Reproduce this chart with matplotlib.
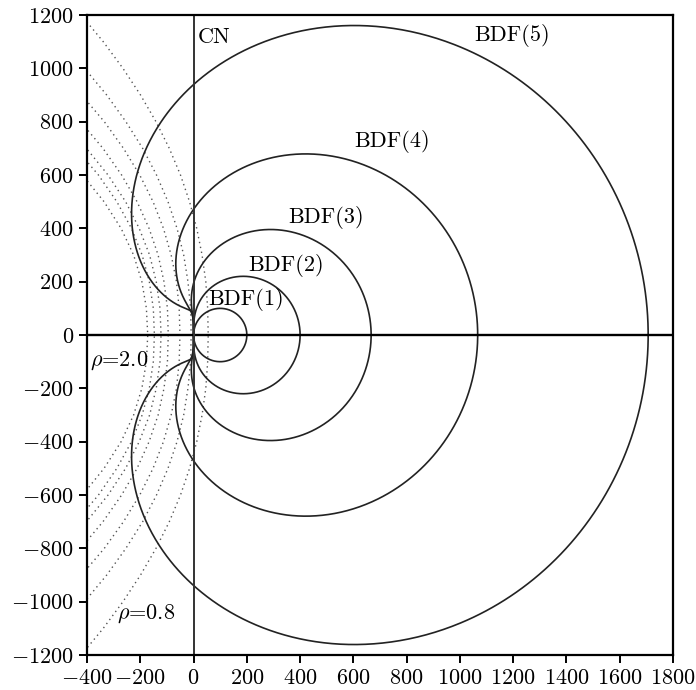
# BDF stability boundaries (scaled by 1/h) with CN axis and rho-curves

import numpy as np
import matplotlib.pyplot as plt

plt.rcParams['font.family'] = 'cmr10'
plt.rcParams['mathtext.fontset'] = 'cm'
plt.rcParams['axes.formatter.use_mathtext'] = True

# BDF(k) coefficients alpha_k ... alpha_0 (beta_k = 1)
bdf_names = ['BDF(1)', 'BDF(2)', 'BDF(3)', 'BDF(4)', 'BDF(5)']
bdf1 = [1, -1]
bdf2 = [3/2, -2, 1/2]
bdf3 = [11/6, -3, 3/2, -1/3]
bdf4 = [25/12, -4, 3, -4/3, 1/4]
bdf5 = [137/60, -5, 5, -10/3, 5/4, -1/5]
inv_h = 100  # 1/h

# label anchors (centre of text)
bdf_label_x = [199, 349, 497, 745, 1195]
bdf_label_y = [135, 262, 439, 725, 1125]

# dotted rho-curves, upper half (mirrored below)
rho_y = [0, 100, 200, 300, 400, 500, 600, 700, 800, 900, 1000, 1100, 1200]
rho_vals = [0.8, 1.0, 1.2, 1.4, 1.6, 1.8, 2.0]
x_rho08 = [55, 53, 46, 32, 12, -15, -49, -91, -141, -199, -265, -339, -422]
x_rho10 = [-9, -11, -21, -37, -62, -96, -139, -191, -254, -326, -409, -502]
x_rho12 = [-51, -54, -64, -84, -113, -152, -202, -263, -335, -420]
x_rho14 = [-95, -98, -111, -133, -167, -212, -270, -340, -424]
x_rho16 = [-122, -126, -140, -165, -204, -255, -321, -402, -497]
x_rho18 = [-147, -151, -166, -193, -233, -288, -357, -442]
x_rho20 = [-172, -177, -194, -225, -272, -336, -417]
rho_curves = [x_rho08, x_rho10, x_rho12, x_rho14, x_rho16, x_rho18, x_rho20]

fig = plt.figure(figsize=(6.96, 6.90), dpi=100)
ax = fig.add_axes([0.125, 0.0507, 0.842, 0.9275])

for xs in rho_curves:
    ys = np.array(rho_y[:len(xs)])
    xs = np.array(xs)
    xx = np.concatenate([xs[::-1], xs[1:]])
    yy = np.concatenate([-ys[::-1], ys[1:]])
    ax.plot(xx, yy, color='#555555', lw=1.0, dashes=(1, 2.6))

theta = np.linspace(0, 2 * np.pi, 2000)
zeta = np.exp(1j * theta)
for coefs in [bdf1, bdf2, bdf3, bdf4, bdf5]:
    k = len(coefs) - 1
    z = np.polyval(coefs, zeta) / zeta**k * inv_h
    ax.plot(z.real, z.imag, color='#222222', lw=1.2)

ax.axhline(0, color='black', lw=1.7)
ax.axvline(0, color='#333333', lw=1.4)

for name, lx, ly in zip(bdf_names, bdf_label_x, bdf_label_y):
    ax.text(lx, ly, name, fontsize=16, ha='center', va='center')
ax.text(15, 1115, 'CN', fontsize=16, ha='left', va='center')
ax.text(-280, -96, r'$\rho$=2.0', fontsize=16, ha='center', va='center')
ax.text(-178, -1046, r'$\rho$=0.8', fontsize=16, ha='center', va='center')

ax.set_xlim(-400, 1800)
ax.set_ylim(-1200, 1200)
ax.set_xticks(np.arange(-400, 1801, 200))
ax.set_yticks(np.arange(-1200, 1201, 200))
ax.tick_params(direction='out', length=6, width=1.4, labelsize=16,
               top=False, right=False)
for s in ax.spines.values():
    s.set_linewidth(1.6)

fig.savefig('out.png', dpi=100)
